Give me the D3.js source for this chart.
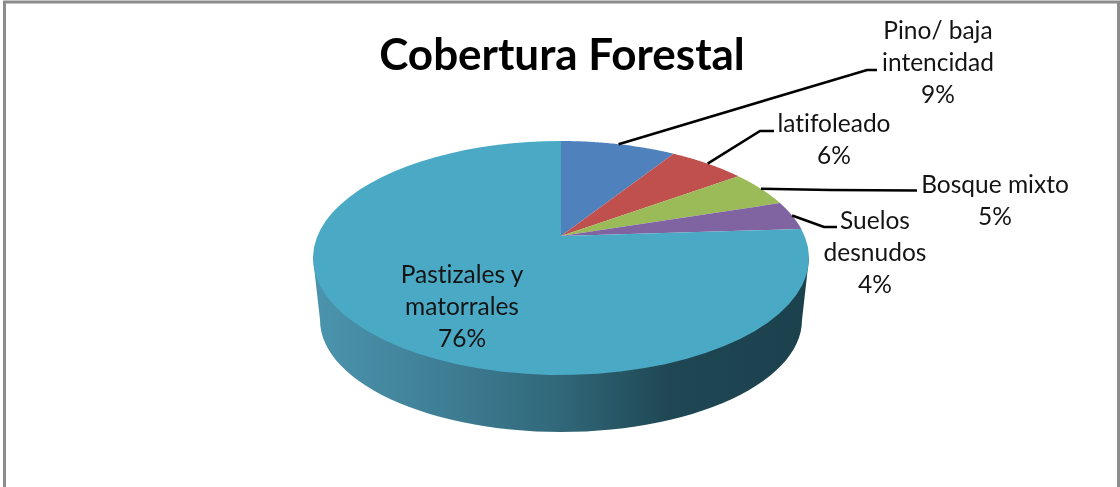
<!DOCTYPE html>
<html>
<head>
<meta charset="utf-8">
<script src="https://cdn.jsdelivr.net/npm/d3@7"></script>
<style>
  html, body { margin: 0; padding: 0; background: #fff; overflow: hidden; }
  svg { display: block; filter: blur(0.6px); }
  text { font-family: Lato, "Open Sans", sans-serif; fill: #141414; font-variant-ligatures: none; }
</style>
</head>
<body>
<div id="chart"></div>
<script>
const categories = ['Pino/ baja intencidad', 'latifoleado', 'Bosque mixto', 'Suelos desnudos', 'Pastizales y matorrales'];
const values = [9, 6, 5, 4, 76];
const colors = ['#4f81bd', '#c0504d', '#9bbb59', '#8064a2', '#4aa9c5'];
const labelLines = [['Pino/ baja', 'intencidad'], ['latifoleado'], ['Bosque mixto'], ['Suelos', 'desnudos'], ['Pastizales y', 'matorrales']];

const width = 1120, height = 487;

// top face of the pie is a tilted disc: the centre sits above the middle of the ellipse
const face = { cx: 561, cy: 258, rx: 248, ry: 117 };
const base = { cx: 561, cy: 320, rx: 241, ry: 112 };
const tilt = 0.188;

const svg = d3.select('#chart').append('svg')
    .attr('width', width)
    .attr('height', height);

// frame, no bottom edge
svg.append('path')
    .attr('d', `M4.5,${height} V2 H1118.5 V${height}`)
    .attr('fill', 'none')
    .attr('stroke', '#8c8c8c')
    .attr('stroke-width', 3);

const xScale = d3.scaleLinear().domain([-1, 1]).range([face.cx - face.rx, face.cx + face.rx]);
const yScale = d3.scaleLinear().domain([-1, 1]).range([face.cy + face.ry, face.cy - face.ry]);

// angle on the flat disc -> point on the drawn ellipse
function project(angle, r = 1) {
    const s = Math.sin(angle) * r, c = Math.cos(angle) * r;
    const d = 1 + tilt * c;
    return [xScale(s * Math.sqrt(1 - tilt * tilt) / d), yScale((c + tilt) / d)];
}

const defs = svg.append('defs');
const grad = defs.append('linearGradient')
    .attr('id', 'wall')
    .attr('gradientUnits', 'userSpaceOnUse')
    .attr('x1', base.cx - base.rx).attr('x2', base.cx + base.rx)
    .attr('y1', 0).attr('y2', 0);
[[0, '#4b93ad'], [0.25, '#3f7f95'], [0.5, '#316779'], [0.72, '#1f4854'], [1, '#1b414d']].forEach(s => {
    grad.append('stop').attr('offset', s[0]).attr('stop-color', s[1]);
});

// side wall
const wallPoints = d3.range(0, 181, 3).map(a => {
    const t = a * Math.PI / 180;
    return [base.cx - base.rx * Math.cos(t), base.cy + base.ry * Math.sin(t)];
});
wallPoints.push([face.cx + face.rx, face.cy], [face.cx - face.rx, face.cy]);
svg.append('path')
    .attr('d', d3.line()(wallPoints) + 'Z')
    .attr('fill', 'url(#wall)');

// slices
const pie = d3.pie().sort(null).value(d => d);
const arcs = pie(values);
const lineGen = d3.line();

arcs.forEach((a, i) => {
    const steps = d3.range(0, 61).map(k => project(a.startAngle + (a.endAngle - a.startAngle) * k / 60));
    const apex = project(0, 0);
    svg.append('path')
        .attr('d', lineGen([apex, ...steps]) + 'Z')
        .attr('fill', colors[i]);
});

// leader lines start at the slice mid angle; elbow and end are label layout
const leaders = [
    [[867, 70], [877, 70]],
    [[760, 131], [774, 131]],
    [[830, 190], [917, 190.5]],
    [[824, 227], [837, 227]]
];
leaders.forEach((pts, i) => {
    const mid = (arcs[i].startAngle + arcs[i].endAngle) / 2;
    svg.append('path')
        .attr('d', lineGen([project(mid), ...pts]))
        .attr('fill', 'none')
        .attr('stroke', '#000')
        .attr('stroke-width', 2.6);
});

// labels
const labelPos = [
    { x: 938, y: 39 },
    { x: 834, y: 132 },
    { x: 995, y: 193 },
    { x: 875, y: 229 },
    { x: 462, y: 283 }
];
const lineGap = 32;
arcs.forEach((a, i) => {
    const lines = [...labelLines[i], values[i] + '%'];
    lines.forEach((t, k) => {
        svg.append('text')
            .attr('x', labelPos[i].x)
            .attr('y', labelPos[i].y + k * lineGap)
            .attr('text-anchor', 'middle')
            .attr('font-size', '24.5px')
            .text(t);
    });
});

svg.append('text')
    .attr('x', 562)
    .attr('y', 70)
    .attr('text-anchor', 'middle')
    .attr('font-size', '44px')
    .attr('font-weight', 700)
    .attr('style', 'fill:#000')
    .text('Cobertura Forestal');
</script>
</body>
</html>
